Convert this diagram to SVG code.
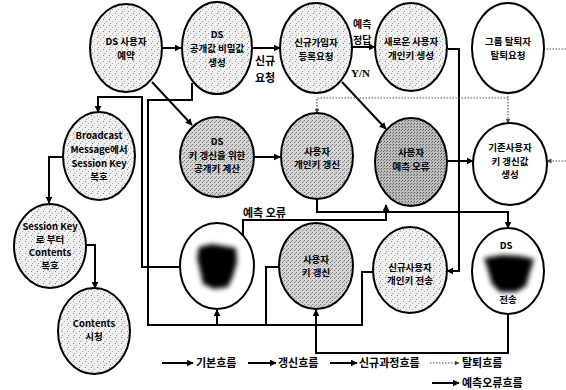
<svg xmlns="http://www.w3.org/2000/svg" width="566" height="390" viewBox="0 0 566 390">
<defs>
<pattern id="stip" width="6" height="6" patternUnits="userSpaceOnUse">
<rect width="6" height="6" fill="#f0f0f0"/>
<rect x="1" y="1" width="1" height="1" fill="#888"/>
<rect x="4" y="3" width="1" height="1" fill="#aaa"/>
<rect x="2" y="5" width="1" height="1" fill="#999"/>
</pattern>
<pattern id="hatch" width="4" height="4" patternUnits="userSpaceOnUse">
<rect width="4" height="4" fill="#d4d4d4"/>
<rect x="0" y="0" width="1" height="1" fill="#777"/>
<rect x="2" y="2" width="1" height="1" fill="#777"/>
<rect x="3" y="1" width="1" height="1" fill="#999"/>
</pattern>
<pattern id="dense" width="3" height="3" patternUnits="userSpaceOnUse">
<rect width="3" height="3" fill="#bdbdbd"/>
<rect x="0" y="0" width="1" height="1" fill="#555"/>
<rect x="2" y="1" width="1" height="1" fill="#777"/>
</pattern>
<filter id="blur" x="-30%" y="-30%" width="160%" height="160%"><feGaussianBlur stdDeviation="2.5"/></filter>
<marker id="a" viewBox="0 0 10 10" refX="9" refY="5" markerWidth="7" markerHeight="7" markerUnits="userSpaceOnUse" orient="auto"><path d="M0,0 L10,5 L0,10 z" fill="#000"/></marker>
<marker id="s" viewBox="0 0 10 10" refX="9" refY="5" markerWidth="5" markerHeight="5" markerUnits="userSpaceOnUse" orient="auto"><path d="M0,0 L10,5 L0,10 z" fill="#444"/></marker>
</defs>
<style>
.n{stroke:#000;stroke-width:2}
.st{fill:url(#stip)}
.ht{fill:url(#hatch)}
.dn{fill:url(#dense)}
.wh{fill:#fff}
.t{font-family:"Noto Sans CJK KR","Liberation Sans",sans-serif;font-size:9.5px;font-weight:bold;text-anchor:middle;fill:#000}
.l{font-family:"Noto Sans CJK KR","Liberation Sans",sans-serif;font-size:11px;font-weight:bold;fill:#000}
.c{fill:none;stroke:#000;stroke-width:2}
.d{fill:none;stroke:#555;stroke-width:1.2;stroke-dasharray:1.5 1.5}
</style>
<g id="connectors">
<path class="c" d="M163,48 H181" marker-end="url(#a)"/>
<path class="c" d="M253,48 H280" marker-end="url(#a)"/>
<path class="c" d="M352,47 H375" marker-end="url(#a)"/>
<path class="c" d="M342,82 L386,129" marker-end="url(#a)"/>
<path class="c" d="M152,82 L192,125" marker-end="url(#a)"/>
<path class="c" d="M253,157 H280" marker-end="url(#a)"/>
<path class="c" d="M447,161 H473" marker-end="url(#a)"/>
<path class="c" d="M448,49 H459 V271 H447" marker-end="url(#a)"/>
<path class="c" d="M317,198 V212 H508 V228" marker-end="url(#a)"/>
<path class="c" d="M243,237 V220 H386 V205" marker-end="url(#a)"/>
<path class="c" d="M180,267 H142 V97 H98 V112" marker-end="url(#a)"/>
<path class="c" d="M192,83 V100 H148 V325 H362 V272 H373"/>
<path class="c" d="M266,325 V267 H279"/>
<path class="c" d="M217,325 V310" marker-end="url(#a)"/>
<path class="c" d="M508,315 V353 H316 V310" marker-end="url(#a)"/>
<path class="c" d="M63,157 H49 V203" marker-end="url(#a)"/>
<path class="c" d="M85,245 H95 V288" marker-end="url(#a)"/>
<path class="d" d="M508,93 V123" marker-end="url(#s)"/>
<path class="d" d="M508,98 H317 V113" marker-end="url(#s)"/>
<path class="d" d="M566,49 H545"/>
<path class="d" d="M566,161 H547" marker-end="url(#s)"/>
<text class="l" x="255" y="65">신규</text>
<text class="l" x="255" y="82">요청</text>
<text class="l" x="353" y="28" style="font-size:10px">예측</text>
<text class="l" x="353" y="44" style="font-size:10px">정답</text>
<text class="l" x="351" y="77" style="font-family:'Liberation Serif',serif">Y/N</text>
<text class="l" x="243" y="217">예측 오류</text>
</g>
<g id="n1"><ellipse class="n st" cx="126" cy="48" rx="36" ry="44"/><text class="t" x="126" y="45">DS 사용자</text><text class="t" x="126" y="59">예약</text></g>
<g id="n2"><ellipse class="n st" cx="217" cy="48" rx="35" ry="46"/><text class="t" x="217" y="38">DS</text><text class="t" x="217" y="52">공개값 비밀값</text><text class="t" x="217" y="66">생성</text></g>
<g id="n3"><ellipse class="n st" cx="316" cy="48" rx="36" ry="45"/><text class="t" x="316" y="46">신규가입자</text><text class="t" x="316" y="60">등록요청</text></g>
<g id="n4"><ellipse class="n st" cx="411" cy="47" rx="36" ry="44"/><text class="t" x="411" y="45">새로운 사용자</text><text class="t" x="411" y="59">개인키 생성</text></g>
<g id="n5"><ellipse class="n wh" cx="508" cy="48" rx="36" ry="45"/><text class="t" x="508" y="45">그룹 탈퇴자</text><text class="t" x="508" y="59">탈퇴요청</text></g>
<g id="n6"><ellipse class="n st" cx="99" cy="156" rx="36" ry="44"/><text class="t" x="99" y="139">Broadcast</text><text class="t" x="99" y="153">Message에서</text><text class="t" x="99" y="167">Session Key</text><text class="t" x="99" y="180">복호</text></g>
<g id="n7"><ellipse class="n st" cx="50" cy="246" rx="36" ry="42"/><text class="t" x="50" y="230">Session Key</text><text class="t" x="50" y="243">로 부터</text><text class="t" x="50" y="256">Contents</text><text class="t" x="50" y="269">복호</text></g>
<g id="n8"><ellipse class="n st" cx="94" cy="331" rx="36" ry="43"/><text class="t" x="94" y="327">Contents</text><text class="t" x="94" y="340">시청</text></g>
<g id="n9"><ellipse class="n ht" cx="217" cy="157" rx="37" ry="40"/><text class="t" x="217" y="145">DS</text><text class="t" x="217" y="159">키 갱신을 위한</text><text class="t" x="217" y="172">공개키 계산</text></g>
<g id="n10"><ellipse class="n ht" cx="317" cy="156" rx="36" ry="43"/><text class="t" x="317" y="155">사용자</text><text class="t" x="317" y="168">개인키 갱신</text></g>
<g id="n11"><ellipse class="n dn" cx="411" cy="162" rx="36" ry="44"/><text class="t" x="411" y="156">사용자</text><text class="t" x="411" y="170">예측 오류</text></g>
<g id="n12"><ellipse class="n wh" cx="510" cy="164" rx="37" ry="41"/><text class="t" x="510" y="151">기존사용자</text><text class="t" x="510" y="165">키 갱신값</text><text class="t" x="510" y="178">생성</text></g>
<g id="n13"><ellipse class="n wh" cx="217" cy="266" rx="37" ry="43"/><path d="M199,247 L212,244 L224,246 L236,248 L237,262 L233,276 L228,287 L214,289 L203,284 L200,270 L197,258 z" fill="#000" filter="url(#blur)"/></g>
<g id="n14"><ellipse class="n ht" cx="316" cy="266" rx="37" ry="43"/><text class="t" x="316" y="263">사용자</text><text class="t" x="316" y="276">키 갱신</text></g>
<g id="n15"><ellipse class="n st" cx="410" cy="270" rx="37" ry="43"/><text class="t" x="410" y="271">신규사용자</text><text class="t" x="410" y="284">개인키 전송</text></g>
<g id="n16"><ellipse class="n wh" cx="508" cy="271" rx="36" ry="43"/><text class="t" x="506" y="249">DS</text><path d="M484,258 L502,255 L520,256 L534,259 L530,272 L526,286 L516,292 L500,292 L492,284 L488,270 z" fill="#000" filter="url(#blur)"/><text class="t" x="508" y="303">전송</text></g>
<g id="legend">
<path class="c" d="M162,363 H193" marker-end="url(#a)"/><text class="l" x="196" y="367">기본흐름</text>
<path class="c" d="M248,363 H276" marker-end="url(#a)"/><text class="l" x="278" y="367">갱신흐름</text>
<path class="c" d="M330,363 H357" marker-end="url(#a)"/><text class="l" x="359" y="367">신규과정흐름</text>
<path class="d" d="M430,363 H459" marker-end="url(#s)"/><text class="l" x="462" y="367">탈퇴흐름</text>
<path class="c" d="M432,383 H459" marker-end="url(#a)"/><text class="l" x="462" y="387">예측오류흐름</text>
</g>
</svg>
